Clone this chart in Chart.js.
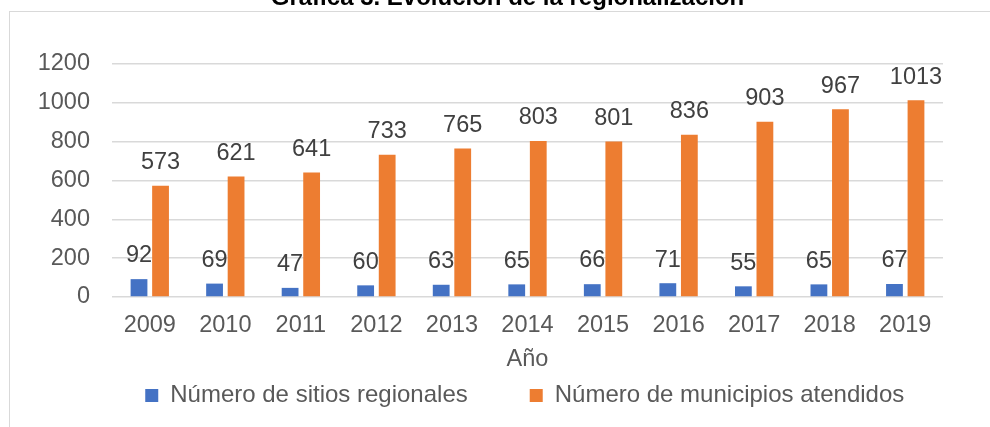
<!DOCTYPE html>
<html>
<head>
<meta charset="utf-8">
<script src="https://cdn.jsdelivr.net/npm/chart.js@4"></script>
<style>
  html, body { margin: 0; padding: 0; background: #fff; overflow: hidden; }
  #wrap { position: relative; width: 990px; height: 427px; overflow: hidden; }
  #frame { position: absolute; left: 9px; top: 11px; width: 1100px; height: 600px; border: 1px solid #d9d9d9; box-sizing: border-box; }
  canvas { position: absolute; left: 0; top: 0; }
</style>
</head>
<body>
<div id="wrap">
  <div id="frame"></div>
  <canvas id="c" width="990" height="427"></canvas>
</div>
<script>
const titleText = "Gráfica 3. Evolución de la regionalización";
const categories = ["2009","2010","2011","2012","2013","2014","2015","2016","2017","2018","2019"];
const seriesNames = ["Número de sitios regionales", "Número de municipios atendidos"];
const sitiosRegionales = [92, 69, 47, 60, 63, 65, 66, 71, 55, 65, 67];
const municipiosAtendidos = [573, 621, 641, 733, 765, 803, 801, 836, 903, 967, 1013];
const yTicks = [0, 200, 400, 600, 800, 1000, 1200];
const xAxisTitle = "Año";

const FONT = "'Liberation Sans', Arial, sans-serif";
const LEGEND_PAD = 62;

const labelsPlugin = {
  id: 'valueLabels',
  afterDatasetsDraw(chart) {
    const ctx = chart.ctx;
    ctx.save();
    ctx.font = "23.5px " + FONT;
    ctx.fillStyle = "#404040";
    ctx.textAlign = "center";
    ctx.textBaseline = "alphabetic";
    chart.data.datasets.forEach((ds, di) => {
      const meta = chart.getDatasetMeta(di);
      meta.data.forEach((bar, i) => {
        ctx.fillText(String(ds.data[i]), bar.x, bar.y - 16.7);
      });
    });
    ctx.restore();
  }
};

const titlePlugin = {
  id: 'pageTitle',
  afterDraw(chart) {
    const ctx = chart.ctx;
    ctx.save();
    ctx.font = "bold 24px " + FONT;
    ctx.fillStyle = "#000000";
    ctx.textAlign = "center";
    ctx.textBaseline = "alphabetic";
    ctx.fillText(titleText, 507.5, 5);
    ctx.restore();
  }
};

const legendPlacer = {
  id: 'legendPlacer',
  afterLayout(chart) {
    const lg = chart.legend;
    if (!lg) return;
    const center = 524.75;
    const half = 447;
    lg.left = center - half;
    lg.right = center + half;
    lg.width = 2 * half;
    lg.top = 395.5 - 12 - LEGEND_PAD;
    lg.bottom = 427;
    lg.height = lg.bottom - lg.top;
  }
};

new Chart(document.getElementById('c'), {
  type: 'bar',
  data: {
    labels: categories,
    datasets: [
      { label: seriesNames[0], data: sitiosRegionales, backgroundColor: '#4472C4', borderWidth: 0,
        categoryPercentage: 0.57, barPercentage: 0.78 },
      { label: seriesNames[1], data: municipiosAtendidos, backgroundColor: '#ED7D31', borderWidth: 0,
        categoryPercentage: 0.57, barPercentage: 0.78 }
    ]
  },
  options: {
    responsive: false,
    animation: false,
    devicePixelRatio: 1,
    layout: { padding: { left: 38.8, right: 47, top: 64, bottom: 10 } },
    plugins: {
      title: { display: false },
      tooltip: { enabled: false },
      legend: {
        display: true,
        position: 'bottom',
        maxHeight: 40,
        labels: {
          boxWidth: 13,
          boxHeight: 13,
          padding: LEGEND_PAD,
          color: '#595959',
          font: { family: FONT, size: 24 }
        }
      }
    },
    scales: {
      x: {
        afterFit(scale) { scale.height = 80; },
        grid: { display: false, drawTicks: false },
        border: { display: false },
        ticks: { color: '#595959', padding: 14.2, maxRotation: 0, autoSkip: false,
                 font: { family: FONT, size: 23.5 } },
        title: { display: true, text: xAxisTitle, color: '#595959',
                 font: { family: FONT, size: 23.5 }, padding: { top: 7.4, bottom: 3 } }
      },
      y: {
        min: 0,
        max: 1200,
        afterFit(scale) { scale.width = 73.2; },
        afterBuildTicks(scale) { scale.ticks = yTicks.map(v => ({ value: v })); },
        grid: { color: '#d9d9d9', lineWidth: 1.5, drawTicks: false },
        border: { display: false },
        ticks: { color: '#595959', padding: 22, font: { family: FONT, size: 23.5 },
                 callback: (v) => String(v) }
      }
    }
  },
  plugins: [labelsPlugin, titlePlugin, legendPlacer]
});
</script>
</body>
</html>
